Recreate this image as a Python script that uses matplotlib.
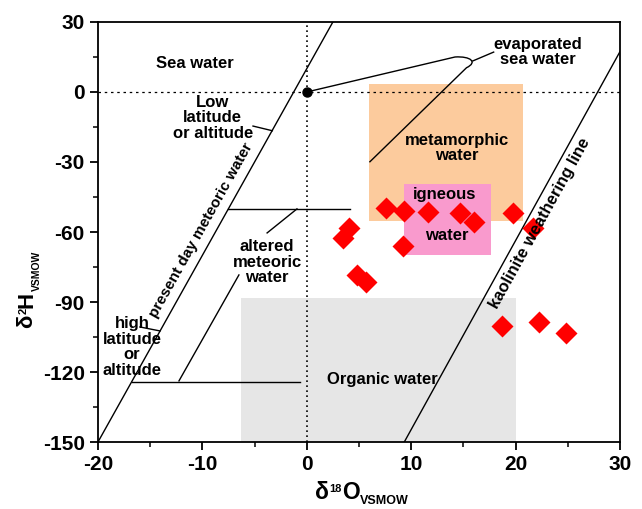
import numpy as np
import matplotlib
matplotlib.use('Agg')
import matplotlib.pyplot as plt
import matplotlib.patches as mpatches
import matplotlib.path as mpath

plt.rcParams['font.family'] = ['Liberation Sans', 'DejaVu Sans']
plt.rcParams['font.weight'] = 'bold'
plt.rcParams['axes.unicode_minus'] = False

# sample data (d18O, d2H)
d18o = [7.6, 9.3, 11.6, 14.7, 16.0, 19.8, 21.7, 4.0, 3.5, 9.2,
        4.8, 5.7, 18.7, 22.2, 24.8]
d2h = [-49.8, -51.0, -51.6, -51.7, -55.6, -51.7, -58.2, -58.2, -62.4, -66.0,
       -78.4, -81.3, -100.2, -98.7, -103.4]

# water fields: (x0, x1, y0, y1)
metamorphic = (6.0, 20.7, -55.1, 3.3)
igneous = (9.3, 17.6, -70.0, -39.5)
organic = (-6.3, 20.0, -150.0, -88.4)

# reference lines
gmwl_x = [-20.0, 2.5]
gmwl_y = [-150.0, 30.0]
kaol_x = [9.34, 30.0]
kaol_y = [-150.0, 17.3]

fig = plt.figure(figsize=(6.42, 5.09), dpi=100)
ax = fig.add_axes([0.1526, 0.1316, 0.8131, 0.8252])

def box(r, col):
    ax.add_patch(mpatches.Rectangle((r[0], r[2]), r[1] - r[0], r[3] - r[2],
                                    facecolor=col, edgecolor='none', zorder=1))

box(organic, '#e6e6e6')
box(metamorphic, '#fccb9d')
box(igneous, '#f99acd')

ax.axhline(0, color='k', lw=0.9, ls=(0, (2, 3)), zorder=2)
ax.axvline(0, color='k', lw=1.2, ls=(0, (1, 2)), zorder=2)

lk = dict(color='k', lw=1.0, zorder=3)
ax.plot(gmwl_x, gmwl_y, **lk)
ax.plot(kaol_x, kaol_y, **lk)

# altered meteoric water construction
ax.plot([-7.5, 4.1], [-50.1, -50.1], **lk)
ax.plot([-16.75, -0.65], [-124.1, -124.1], **lk)
ax.plot([-12.24, -6.5], [-123.8, -78.4], **lk)
ax.plot([-3.8, -0.94], [-60.4, -50.1], **lk)
# pointers
ax.plot([-5.15, -3.3], [-14.6, -16.6], **lk)
ax.plot([-15.98, -14.06], [-100.7, -102.4], **lk)
ax.plot([15.9, 17.9], [13.3, 17.1], **lk)

# evaporated sea water curve
P = mpath.Path
verts = [(0.0, 0.0), (14.2, 15.0), (15.7, 15.4), (16.4, 12.8), (15.3, 10.4), (6.0, -30.1)]
codes = [P.MOVETO, P.LINETO, P.CURVE4, P.CURVE4, P.CURVE4, P.LINETO]
ax.add_patch(mpatches.PathPatch(P(verts, codes), facecolor='none', edgecolor='k',
                                lw=1.0, zorder=3))

ax.plot([0], [0], 'o', color='k', ms=6.5, zorder=4)
ax.plot(d18o, d2h, 'D', color='#ff0000', ms=11, mec='none', zorder=5)

tk = dict(fontsize=12, fontweight='bold', ha='center', va='center', zorder=6,
          linespacing=1.05)
ax.text(-10.7, 12, 'Sea water', **tk)
ax.text(-9.0, -11.1, 'Low\nlatitude\nor altitude', **tk)
ax.text(22.1, 17.2, 'evaporated\nsea water', **tk)
ax.text(14.35, -24.0, 'metamorphic\nwater', **tk)
ax.text(13.2, -44.1, 'igneous', **tk)
ax.text(13.4, -61.3, 'water', **tk)
ax.text(-3.8, -72.9, 'altered\nmeteoric\nwater', **tk)
ax.text(-16.74, -109.3, 'high\nlatitude\nor\naltitude', **tk)
ax.text(7.2, -123.4, 'Organic water', **tk)
tk['fontsize'] = 11
ax.text(-10.1, -59.1, 'present day meteoric water', rotation=60.8,
        rotation_mode='anchor', **tk)
tk['fontsize'] = 12
ax.text(22.3, -56.3, 'kaolinite weathering line', rotation=61.1,
        rotation_mode='anchor', **tk)

ax.set_xlim(-20, 30)
ax.set_ylim(-150, 30)
ax.set_xticks(np.arange(-20, 31, 10))
ax.set_xticks(np.arange(-15, 30, 10), minor=True)
ax.set_yticks(np.arange(-150, 31, 30))
ax.set_yticks(np.arange(-135, 30, 30), minor=True)
ax.tick_params(which='major', direction='out', length=6, width=1.3,
               labelsize=15, pad=3.5)
ax.tick_params(which='minor', direction='out', length=3.5, width=1.1)
for lab in ax.get_xticklabels() + ax.get_yticklabels():
    lab.set_fontweight('bold')
for s in ax.spines.values():
    s.set_linewidth(1.3)

# axis titles built from pieces (small super/subscripts)
W, H = 642.0, 509.0
big, small = 16.5, 9
tx = fig.text(315 / W, 1 - 499 / H, '\u03b4', fontsize=big, ha='left', va='baseline')
t18 = ax.annotate('18', xy=(1, 1), xycoords=tx, xytext=(0.3, -2),
                  textcoords='offset points', fontsize=small - 1, ha='left', va='top')
tO = ax.annotate('O', xy=(1, 0), xycoords=(t18, tx), xytext=(0.3, 0),
                 textcoords='offset points', fontsize=big, ha='left', va='bottom')
ax.annotate('VSMOW', xy=(1, 0), xycoords=tO, xytext=(0.3, -2.5),
            textcoords='offset points', fontsize=small, ha='left', va='bottom')

ty = fig.text(37 / W, 1 - 328 / H, '\u03b4', fontsize=big - 0.5, rotation=90,
              ha='right', va='bottom')
t2 = ax.annotate('2', xy=(0, 1), xycoords=ty, xytext=(1.8, 0.3),
                 textcoords='offset points', fontsize=small - 1, rotation=90,
                 ha='left', va='bottom')
tH = ax.annotate('H', xy=(0, 1), xycoords=(ty, t2), xytext=(0, 0.3),
                 textcoords='offset points', fontsize=big - 0.5, rotation=90,
                 ha='left', va='bottom')
ax.annotate('VSMOW', xy=(1, 1), xycoords=tH, xytext=(3.2, 0.5),
            textcoords='offset points', fontsize=small - 1.5, rotation=90,
            ha='right', va='bottom')

fig.savefig('out.png', dpi=100)
